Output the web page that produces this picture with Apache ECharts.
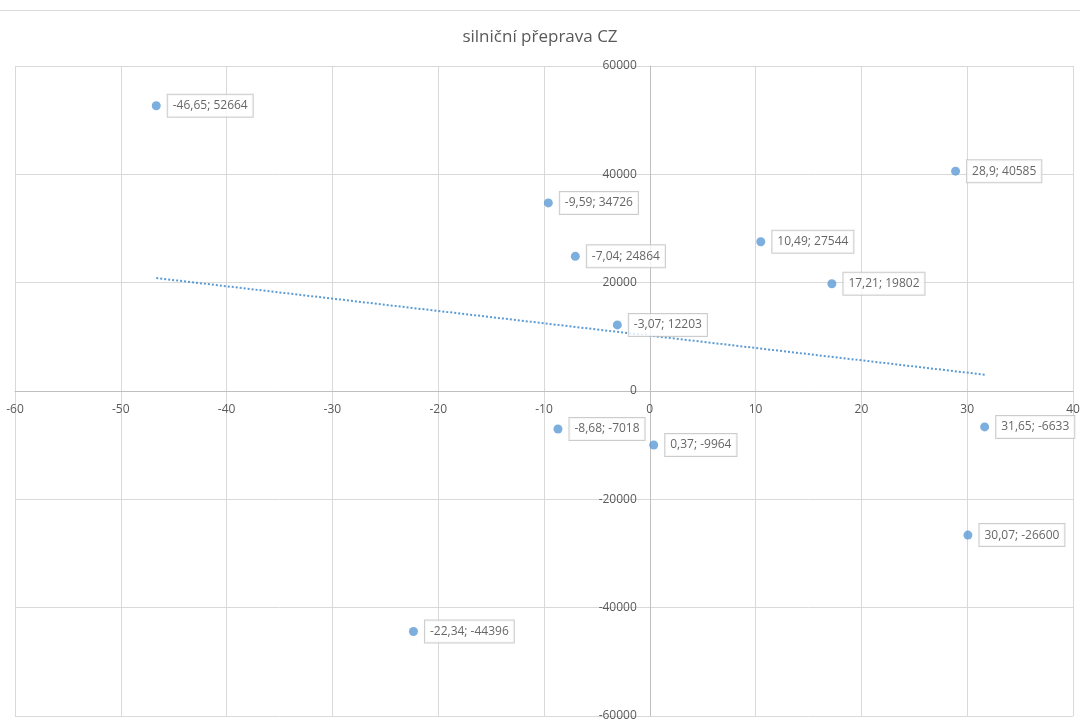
<!DOCTYPE html>
<html>
<head>
<meta charset="utf-8">
<script src="https://cdn.jsdelivr.net/npm/echarts@6/dist/echarts.min.js"></script>
<style>
  html, body { margin: 0; padding: 0; background: #fff; }
  #chart { width: 1080px; height: 720px; }
</style>
</head>
<body>
<div id="chart"></div>
<script>
// Road transport CZ: pairs of (x, y) values
const xValues = [-46.65, 28.9, -9.59, 10.49, -7.04, 17.21, -3.07, 31.65, -8.68, 0.37, 30.07, -22.34];
const yValues = [52664, 40585, 34726, 27544, 24864, 19802, 12203, -6633, -7018, -9964, -26600, -44396];
const labelTexts = ['-46,65; 52664', '28,9; 40585', '-9,59; 34726', '10,49; 27544', '-7,04; 24864',
  '17,21; 19802', '-3,07; 12203', '31,65; -6633', '-8,68; -7018', '0,37; -9964', '30,07; -26600', '-22,34; -44396'];
// Linear trend line end points
const trendX = [-46.65, 31.65];
const trendY = [20850, 3010];

const X_MIN = -60, X_MAX = 40, Y_MIN = -60000, Y_MAX = 60000;

// Plot area box (px) — axes are shifted so that they cross at (0, 0)
const W = 1080, H = 720;
const G = { left: 15, right: 7, top: 66, bottom: 4 };
const plotW = W - G.left - G.right;
const plotH = H - G.top - G.bottom;
const yAxisShift = -plotW * (0 - X_MIN) / (X_MAX - X_MIN);
const xAxisShift = -plotH * (0 - Y_MIN) / (Y_MAX - Y_MIN);

const FONT = '"Open Sans", "Liberation Sans", sans-serif';
const points = xValues.map((x, i) => ({ value: [x, yValues[i]], labelText: labelTexts[i] }));
const trend = trendX.map((x, i) => [x, trendY[i]]);

const chart = echarts.init(document.getElementById('chart'), null, { renderer: 'canvas' });
chart.setOption({
  animation: false,
  backgroundColor: '#ffffff',
  title: {
    text: 'silniční přeprava CZ',
    left: 'center',
    top: 24,
    textStyle: { fontFamily: FONT, fontSize: 17, fontWeight: 'normal', color: '#595959' }
  },
  graphic: [{
    type: 'line',
    shape: { x1: 0, y1: 10.5, x2: 1080, y2: 10.5 },
    style: { stroke: '#d9d9d9', lineWidth: 1 }
  }],
  grid: { left: G.left, right: G.right, top: G.top, bottom: G.bottom, containLabel: false, outerBoundsMode: 'none' },
  xAxis: {
    type: 'value',
    position: 'bottom',
    offset: xAxisShift,
    min: X_MIN, max: X_MAX, interval: 10,
    axisLine: { onZero: false, lineStyle: { color: '#bfbfbf' } },
    axisTick: { show: false },
    splitLine: { lineStyle: { color: '#d9d9d9' } },
    axisLabel: { fontFamily: FONT, fontSize: 12, color: '#595959', margin: 13,
      showMinLabel: true, showMaxLabel: true, formatter: v => String(v) }
  },
  yAxis: {
    type: 'value',
    position: 'left',
    offset: yAxisShift,
    min: Y_MIN, max: Y_MAX, interval: 20000,
    axisLine: { onZero: false, lineStyle: { color: '#bfbfbf' } },
    axisTick: { show: false },
    splitLine: { lineStyle: { color: '#d9d9d9' } },
    axisLabel: { fontFamily: FONT, fontSize: 12, color: '#595959', margin: 13,
      showMinLabel: true, showMaxLabel: true, formatter: v => String(v) }
  },
  series: [
    {
      type: 'line',
      data: trend,
      symbol: 'none',
      silent: true,
      lineStyle: { color: '#5b9bd5', width: 2, type: [2, 2] },
      z: 1
    },
    {
      type: 'scatter',
      data: points,
      symbol: 'circle',
      symbolSize: 9,
      itemStyle: { color: '#5b9bd5' },
      z: 3,
      label: {
        show: true,
        position: 'right',
        distance: 7,
        formatter: p => p.data.labelText,
        fontFamily: FONT,
        fontSize: 12,
        color: '#404040',
        backgroundColor: '#ffffff',
        borderColor: '#bfbfbf',
        borderWidth: 1,
        padding: [5, 5, 5, 5]
      }
    }
  ]
});
</script>
</body>
</html>
